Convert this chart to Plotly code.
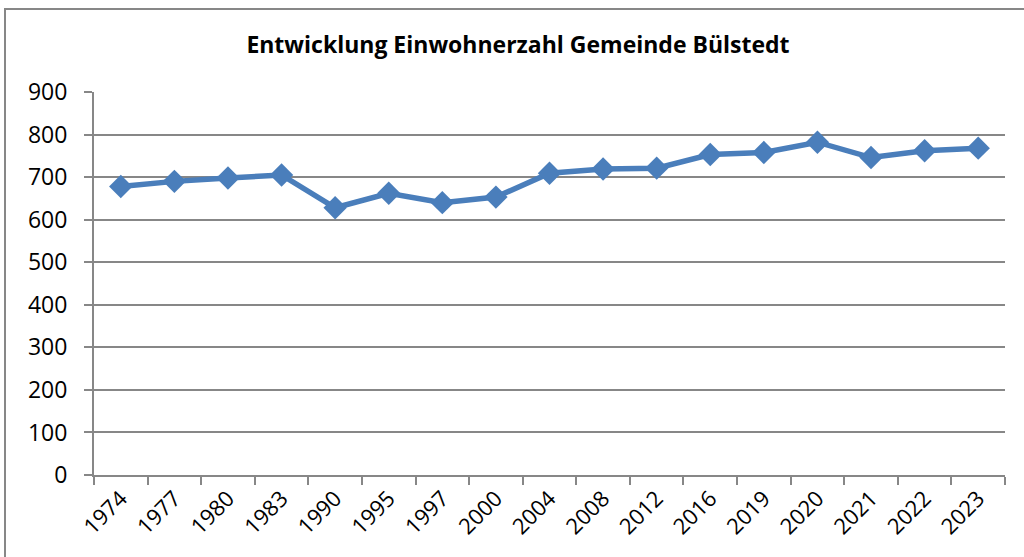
import plotly.graph_objects as go

jahre = ["1974", "1977", "1980", "1983", "1990", "1995", "1997", "2000", "2004",
         "2008", "2012", "2016", "2019", "2020", "2021", "2022", "2023"]
einwohner = [678, 690, 698, 705, 628, 662, 640, 653, 709,
             719, 721, 753, 758, 782, 746, 762, 768]

blau = "#4A7EBB"
grau = "#878787"

fig = go.Figure()
fig.add_trace(go.Scatter(
    x=jahre, y=einwohner, mode="lines+markers",
    line=dict(color=blau, width=5.5),
    marker=dict(symbol="diamond", size=18, color=blau),
    cliponaxis=False, showlegend=False,
))

# Rahmen um das Diagramm (Excel-Stil)
W, H = 1024, 557
l, r, t, b = 94, 19, 92, 82
pw, ph = W - l - r, H - t - b
fig.add_shape(type="rect", xref="paper", yref="paper",
              x0=(5 - l) / pw, x1=(W + 10 - l) / pw,
              y0=(H - b - (H + 10)) / ph, y1=(H - b - 9) / ph,
              line=dict(color=grau, width=2), layer="below")

fig.update_layout(
    width=W, height=H,
    margin=dict(l=l, r=r, t=t, b=b, autoexpand=False),
    paper_bgcolor="white", plot_bgcolor="white",
    title=dict(text="<b>Entwicklung Einwohnerzahl Gemeinde Bülstedt</b>",
               x=518 / W, xanchor="center", y=1 - 45 / H, yanchor="middle",
               font=dict(family="Open Sans", size=23, color="black")),
    font=dict(family="Open Sans", size=22, color="black"),
)
fig.update_xaxes(
    type="category", range=[-0.5, len(jahre) - 0.5],
    tickson="boundaries", ticks="outside", ticklen=8,
    tickcolor=grau, tickwidth=2, showline=True, linecolor=grau, linewidth=2,
    showgrid=False, tickangle=-45, tickfont=dict(size=22), automargin=False,
)
fig.update_yaxes(
    range=[0, 900], dtick=100, ticks="outside", ticklen=8, tickcolor=grau,
    tickwidth=2, showline=True, linecolor=grau, linewidth=2,
    showgrid=True, gridcolor=grau, gridwidth=2, zeroline=False,
    tickfont=dict(size=23), ticklabelstandoff=12, automargin=False,
)

fig.write_html("out.html", config={"displayModeBar": False},
               post_script="document.body.style.margin='0';"
                           "document.body.style.overflow='hidden';")
